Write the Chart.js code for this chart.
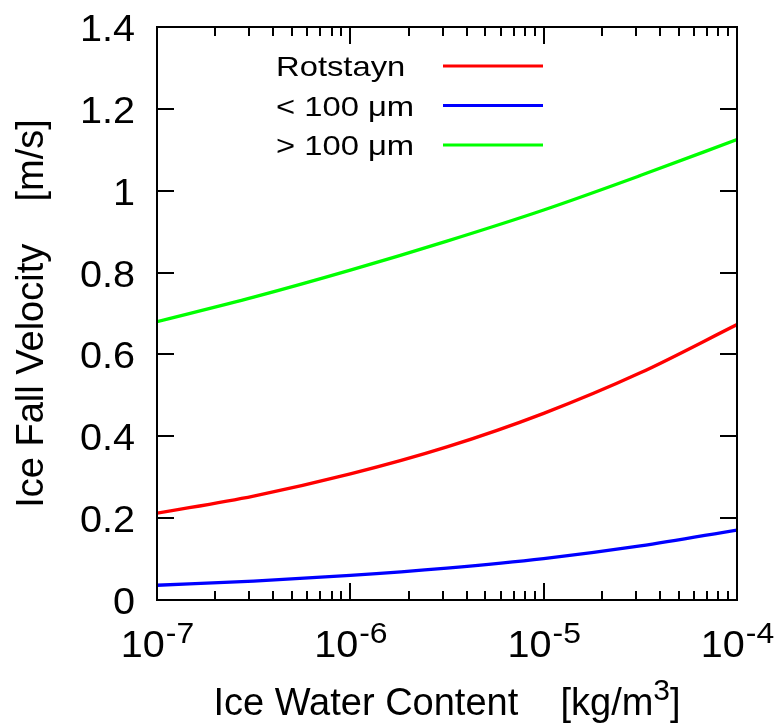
<!DOCTYPE html>
<html>
<head>
<meta charset="utf-8">
<script src="https://cdn.jsdelivr.net/npm/chart.js@4/dist/chart.umd.min.js"></script>
<style>
  body { margin: 0; background: #fff; }
  canvas { display: block; }
</style>
</head>
<body>
<canvas id="fallSpeed" width="777" height="726"></canvas>
<script>
// ice water content (kg/m3), sampled every half decade
const waterContent = [1e-7, 3.16e-7, 1e-6, 3.16e-6, 1e-5, 3.16e-5, 1e-4];
// fall velocities (m/s)
const rotstayn = [0.212, 0.254, 0.308, 0.374, 0.456, 0.555, 0.673];
const smallIce = [0.036, 0.046, 0.060, 0.078, 0.101, 0.132, 0.171];
const largeIce = [0.680, 0.740, 0.806, 0.877, 0.953, 1.037, 1.125];

const seriesNames = ["Rotstayn", "< 100 \u03bcm", "> 100 \u03bcm"];
const yTickValues = [0, 0.2, 0.4, 0.6, 0.8, 1, 1.2, 1.4];
const yTickLabels = ["0", "0.2", "0.4", "0.6", "0.8", "1", "1.2", "1.4"];
const xTickValues = [1e-7, 1e-6, 1e-5, 1e-4];
const xTickExponents = ["-7", "-6", "-5", "-4"];

const FONT = "'Liberation Sans', Arial, Helvetica, sans-serif";

function toPoints(ys) {
  return waterContent.map((x, i) => ({ x: x, y: ys[i] }));
}

// text with a bit of horizontal stretch, like the gnuplot output
function stretchText(ctx, text, x, y, size, sx, align) {
  ctx.save();
  ctx.font = size + "px " + FONT;
  const w = ctx.measureText(text).width * sx;
  let x0 = x;
  if (align === "center") x0 = x - w / 2;
  if (align === "right") x0 = x - w;
  ctx.translate(x0, y);
  ctx.scale(sx, 1);
  ctx.textAlign = "left";
  ctx.textBaseline = "alphabetic";
  ctx.fillText(text, 0, 0);
  ctx.restore();
  return w;
}

const framePlugin = {
  id: "gnuplotFrame",
  afterDatasetsDraw(chart) {
    const ctx = chart.ctx;
    const area = chart.chartArea;
    const xs = chart.scales.x;
    const ys = chart.scales.y;
    ctx.save();
    ctx.strokeStyle = "#000";
    ctx.fillStyle = "#000";
    ctx.lineWidth = 2;

    // y ticks, inside on both sides
    ctx.beginPath();
    yTickValues.forEach((v) => {
      const py = Math.round(ys.getPixelForValue(v));
      ctx.moveTo(area.left, py);
      ctx.lineTo(area.left + 17, py);
      ctx.moveTo(area.right, py);
      ctx.lineTo(area.right - 17, py);
    });
    // x ticks: decades long, 2..9 short
    for (let e = -7; e < -4; e++) {
      for (let m = 1; m <= 10; m++) {
        const v = m * Math.pow(10, e);
        const px = Math.round(xs.getPixelForValue(v));
        const len = m === 1 || m === 10 ? 17 : 9;
        ctx.moveTo(px, area.bottom);
        ctx.lineTo(px, area.bottom - len);
        ctx.moveTo(px, area.top);
        ctx.lineTo(px, area.top + len);
      }
    }
    ctx.stroke();

    ctx.strokeRect(area.left, area.top, area.right - area.left, area.bottom - area.top);

    // y tick labels
    yTickValues.forEach((v, i) => {
      const py = ys.getPixelForValue(v);
      stretchText(ctx, yTickLabels[i], 135, py + 14, 36, 1.1, "right");
    });

    // x tick labels 10^n
    xTickValues.forEach((v, i) => {
      const px = xs.getPixelForValue(v);
      ctx.font = "36px " + FONT;
      const wBase = ctx.measureText("10").width * 1.1;
      ctx.font = "29px " + FONT;
      const wExp = ctx.measureText(xTickExponents[i]).width * 1.1;
      const x0 = px - (wBase + wExp) / 2;
      stretchText(ctx, "10", x0, 657, 36, 1.1, "left");
      stretchText(ctx, xTickExponents[i], x0 + wBase + 1, 643, 29, 1.1, "left");
    });

    // axis titles
    ctx.textBaseline = "alphabetic";
    const xTitle = "Ice Water Content    [kg/m";
    ctx.font = "38px " + FONT;
    const wMain = ctx.measureText(xTitle).width;
    ctx.font = "30px " + FONT;
    const wSup = ctx.measureText("3").width;
    ctx.font = "38px " + FONT;
    const wEnd = ctx.measureText("]").width;
    const tx = (area.left + area.right) / 2 - (wMain + wSup + wEnd) / 2;
    ctx.textAlign = "left";
    ctx.fillText(xTitle, tx, 715);
    ctx.font = "30px " + FONT;
    ctx.fillText("3", tx + wMain, 700);
    ctx.font = "38px " + FONT;
    ctx.fillText("]", tx + wMain + wSup, 715);

    ctx.save();
    ctx.translate(43, (area.top + area.bottom) / 2);
    ctx.rotate(-Math.PI / 2);
    ctx.textAlign = "center";
    ctx.font = "38px " + FONT;
    ctx.fillText("Ice Fall Velocity    [m/s]", 0, 0);
    ctx.restore();

    // key, text left and sample line right
    chart.data.datasets.forEach((ds, i) => {
      const ly = 66 + i * 39.5;
      stretchText(ctx, ds.label, 276, ly + 10, 28, 1.17, "left");
      ctx.strokeStyle = ds.borderColor;
      ctx.lineWidth = 3;
      ctx.beginPath();
      ctx.moveTo(443, ly);
      ctx.lineTo(543, ly);
      ctx.stroke();
    });
    ctx.restore();
  },
};

new Chart(document.getElementById("fallSpeed"), {
  type: "line",
  data: {
    datasets: [
      { label: seriesNames[0], data: toPoints(rotstayn), borderColor: "#ff0000" },
      { label: seriesNames[1], data: toPoints(smallIce), borderColor: "#0000ff" },
      { label: seriesNames[2], data: toPoints(largeIce), borderColor: "#00ff00" },
    ],
  },
  options: {
    responsive: false,
    animation: false,
    devicePixelRatio: 1,
    layout: { padding: { left: 157, right: 40, top: 27, bottom: 126 } },
    elements: {
      point: { radius: 0 },
      line: { borderWidth: 3.3, cubicInterpolationMode: "monotone", fill: false },
    },
    scales: {
      x: { type: "logarithmic", min: 1e-7, max: 1e-4, display: false },
      y: { type: "linear", min: 0, max: 1.4, display: false },
    },
    plugins: {
      legend: { display: false },
      tooltip: { enabled: false },
    },
  },
  plugins: [framePlugin],
});
</script>
</body>
</html>
